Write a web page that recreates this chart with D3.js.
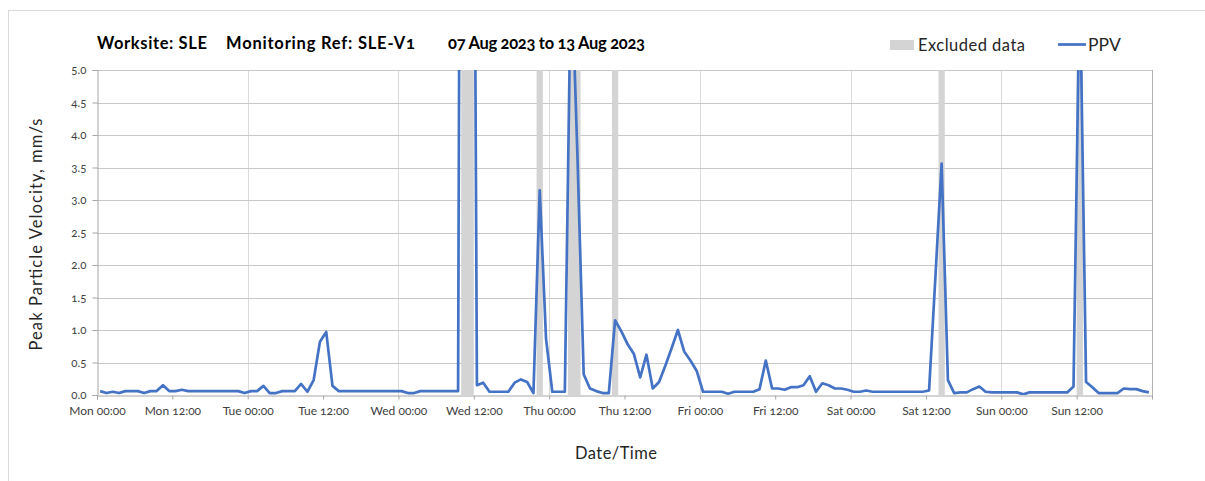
<!DOCTYPE html>
<html>
<head>
<meta charset="utf-8">
<script src="https://cdn.jsdelivr.net/npm/d3@7"></script>
<style>
  html, body { margin: 0; padding: 0; background: #fff; }
  svg { display: block; font-family: Lato, "Open Sans", sans-serif; font-variant-numeric: oldstyle-nums; font-feature-settings: "onum" 1; }
</style>
</head>
<body>
<svg id="chart" width="1205" height="481"></svg>
<script>
// ---- data ----
const titleParts = ["Worksite: SLE", "Monitoring Ref: SLE-V1", "07 Aug 2023 to 13 Aug 2023"];
const seriesNames = ["Excluded data", "PPV"];
const yTicks = [0, 0.5, 1, 1.5, 2, 2.5, 3, 3.5, 4, 4.5, 5];
const firstSample = new Date(2023, 7, 7, 0, 30); // hourly samples
const axisStart = new Date(2023, 7, 7, 0, 0);
const axisEnd = new Date(2023, 7, 14, 0, 0);
// PPV, mm/s, one reading per hour from Mon 00:30
const ppv = [
  0.06,0.03,0.05,0.03,0.06,0.06,0.06,0.03,0.06,0.06, 0.15,0.06,0.06,0.08,0.06,0.06,0.06,0.06,0.06,0.06,
  0.06,0.06,0.06,0.03,0.06,0.06,0.14,0.03,0.03,0.06, 0.06,0.06,0.17,0.05,0.23,0.82,0.97,0.14,0.06,0.06,
  0.06,0.06,0.06,0.06,0.06,0.06,0.06,0.06,0.06,0.03, 0.03,0.06,0.06,0.06,0.06,0.06,0.06,0.06,30,20,
  0.15,0.19,0.05,0.05,0.05,0.05,0.19,0.24,0.20,0.03, 3.15,0.87,0.05,0.05,0.05,6.7,3.7,0.32,0.10,0.06,
  0.03,0.03,1.15,0.98,0.78,0.63,0.27,0.62,0.10,0.20, 0.45,0.72,1.00,0.67,0.53,0.37,0.05,0.05,0.05,0.05,
  0.02,0.05,0.05,0.05,0.05,0.09,0.53,0.10,0.10,0.08, 0.12,0.12,0.15,0.29,0.05,0.18,0.15,0.10,0.10,0.08,
  0.05,0.05,0.07,0.05,0.05,0.05,0.05,0.05,0.05,0.05, 0.05,0.05,0.07,1.8,3.56,0.23,0.03,0.04,0.04,0.09,
  0.13,0.05,0.04,0.04,0.04,0.04,0.04,0.01,0.04,0.04, 0.04,0.04,0.04,0.04,0.04,0.13,6.5,0.20,0.12,0.03,
  0.03,0.03,0.03,0.10,0.09,0.09,0.06,0.04
];
const excludedStart = ["2023-08-09T10:00","2023-08-09T22:00","2023-08-10T03:00","2023-08-10T10:00","2023-08-12T14:00","2023-08-13T12:00"];
const excludedEnd   = ["2023-08-09T12:00","2023-08-09T23:00","2023-08-10T05:00","2023-08-10T11:00","2023-08-12T15:00","2023-08-13T13:00"];

// ---- layout ----
const svg = d3.select("#chart");
const M = { left: 97, top: 70, right: 1152, bottom: 395 };
const W = M.right - M.left, H = M.bottom - M.top;

const parse = s => new Date(s);
const times = ppv.map((_, i) => d3.timeHour.offset(firstSample, i));
const data = ppv.map((v, i) => ({ t: times[i], v }));
const bands = excludedStart.map((s, i) => ({ s: parse(s), e: parse(excludedEnd[i]) }));

const x = d3.scaleTime().domain([axisStart, axisEnd]).range([M.left, M.right]);
const y = d3.scaleLinear().domain([0, 5]).range([M.bottom, M.top]);

// outer border
svg.append("rect").attr("x", 8.5).attr("y", 10.5).attr("width", 1210).attr("height", 490)
  .attr("fill", "none").attr("stroke", "#d9d9d9").attr("stroke-width", 1);

// clip
svg.append("clipPath").attr("id", "plotclip").append("rect")
  .attr("x", M.left).attr("y", M.top).attr("width", W).attr("height", H);

// vertical day gridlines
svg.append("g").selectAll("line").data(d3.timeDay.range(d3.timeDay.offset(axisStart, 1), axisEnd))
  .join("line")
  .attr("x1", d => Math.round(x(d)) + 0.5).attr("x2", d => Math.round(x(d)) + 0.5)
  .attr("y1", M.top).attr("y2", M.bottom)
  .attr("stroke", "#dadada").attr("stroke-width", 1);

// horizontal gridlines
svg.append("g").selectAll("line").data(yTicks.slice(1))
  .join("line")
  .attr("x1", M.left).attr("x2", M.right)
  .attr("y1", d => Math.round(y(d)) + 0.5).attr("y2", d => Math.round(y(d)) + 0.5)
  .attr("stroke", "#c8c8c8").attr("stroke-width", 1);

// excluded bands
svg.append("g").attr("clip-path", "url(#plotclip)").selectAll("rect").data(bands)
  .join("rect")
  .attr("x", d => x(d.s)).attr("width", d => x(d.e) - x(d.s))
  .attr("y", M.top).attr("height", H)
  .attr("fill", "#d4d4d4");

// right border
svg.append("line").attr("x1", M.right + 0.5).attr("x2", M.right + 0.5)
  .attr("y1", M.top).attr("y2", M.bottom + 4).attr("stroke", "#b4b4b4");

// y axis
const yAxis = svg.append("g").attr("transform", `translate(${M.left + 0.5},0)`)
  .call(d3.axisLeft(y).tickValues(yTicks).tickFormat(d3.format(".1f")).tickSize(5).tickPadding(6));
yAxis.select(".domain").attr("stroke", "#a6a6a6");
yAxis.selectAll(".tick line").attr("stroke", "#a6a6a6");
yAxis.selectAll(".tick text").attr("fill", "#404040").style("font-size", "11.5px").style("font-family", "Lato, sans-serif");

// x axis
const xAxis = svg.append("g").attr("transform", `translate(0,${M.bottom + 0.5})`)
  .call(d3.axisBottom(x).ticks(d3.timeHour.every(12)).tickFormat(d3.timeFormat("%a %H:%M")).tickSize(4).tickPadding(7));
xAxis.select(".domain").attr("stroke", "#a6a6a6");
xAxis.selectAll(".tick line").attr("stroke", "#a6a6a6");
xAxis.selectAll(".tick text").attr("fill", "#404040").style("font-size", "12px").style("font-family", "Lato, sans-serif");
xAxis.selectAll(".tick").filter(d => +d === +axisEnd).remove();

// PPV line
const line = d3.line().x(d => x(d.t)).y(d => y(d.v));
svg.append("path").datum(data).attr("clip-path", "url(#plotclip)")
  .attr("d", line).attr("fill", "none").attr("stroke", "#4472C4")
  .attr("stroke-width", 2.7).attr("stroke-linejoin", "round");

// title
const titleX = [97, 226, 448];
const titleW = [110, 189, 197];
svg.append("g").selectAll("text").data(titleParts).join("text")
  .attr("x", (d, i) => titleX[i]).attr("y", 49)
  .attr("font-size", 16.5).attr("font-weight", "bold").attr("fill", "#000")
  .attr("textLength", (d, i) => titleW[i]).attr("lengthAdjust", "spacing")
  .text(d => d);

// legend
const lg = svg.append("g");
lg.append("rect").attr("x", 890).attr("y", 40).attr("width", 24).attr("height", 10).attr("fill", "#d4d4d4");
lg.append("text").attr("x", 918).attr("y", 51).attr("font-size", 16.5).attr("fill", "#262626")
  .attr("textLength", 107).attr("lengthAdjust", "spacing").text(seriesNames[0]);
lg.append("line").attr("x1", 1058).attr("x2", 1086).attr("y1", 44.5).attr("y2", 44.5)
  .attr("stroke", "#4472C4").attr("stroke-width", 2.7);
lg.append("text").attr("x", 1088).attr("y", 51).attr("font-size", 17.5).attr("fill", "#262626")
  .text(seriesNames[1]);

// axis titles
svg.append("text").attr("transform", `translate(42,${(M.top + M.bottom) / 2 + 2}) rotate(-90)`)
  .attr("text-anchor", "middle").attr("font-size", 16.5).attr("fill", "#262626")
  .attr("textLength", 232).attr("lengthAdjust", "spacing")
  .text("Peak Particle Velocity, mm/s");
svg.append("text").attr("x", 616).attr("y", 459).attr("text-anchor", "middle")
  .attr("font-size", 16.5).attr("fill", "#262626")
  .attr("textLength", 82).attr("lengthAdjust", "spacing").text("Date/Time");
</script>
</body>
</html>
